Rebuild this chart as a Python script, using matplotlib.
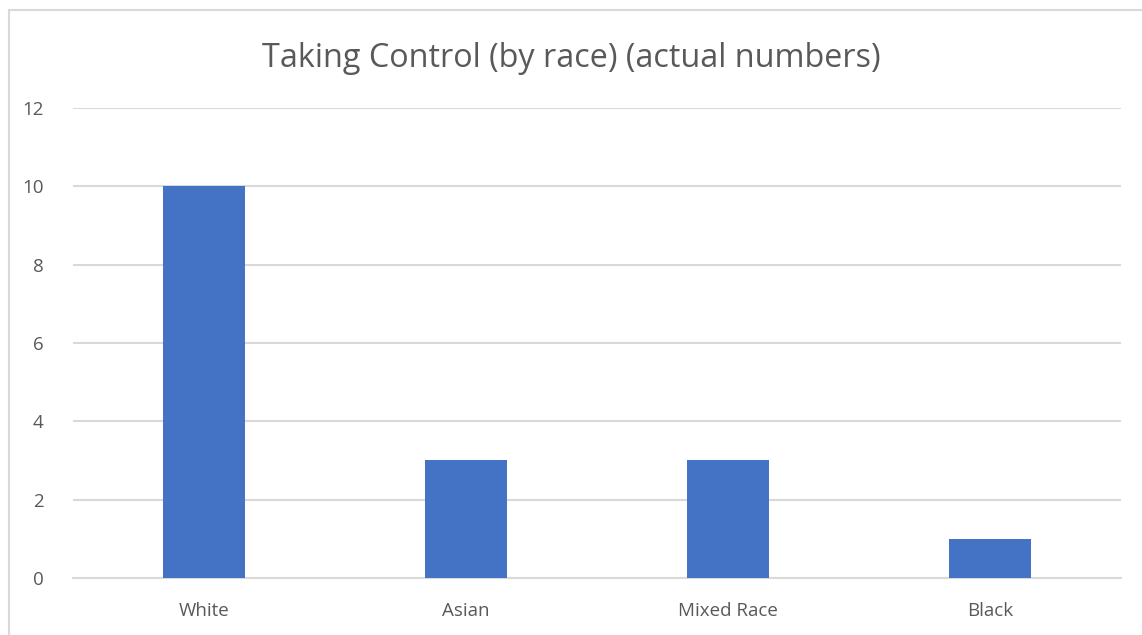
import matplotlib.pyplot as plt
from matplotlib.patches import Rectangle

categories = ['White', 'Asian', 'Mixed Race', 'Black']
counts = [10, 3, 3, 1]
y_ticks = [0, 2, 4, 6, 8, 10, 12]

plt.rcParams['font.family'] = ['Open Sans', 'DejaVu Sans']
text_grey = '#595959'
grid_grey = '#D9D9D9'

fig = plt.figure(figsize=(11.42, 6.35), dpi=100)
ax = fig.add_axes([0.0639, 0.0898, 0.9177, 0.7401])

# chart area outline (runs off the right and bottom edges)
fig.patches.append(Rectangle((9 / 1142, -0.05), 1.2, 1 - 10 / 635 + 0.05,
                             transform=fig.transFigure, fill=False,
                             edgecolor=grid_grey, linewidth=1.5))

x = range(len(categories))
ax.bar(x, counts, width=0.313, color='#4472C4', zorder=3)

ax.set_xlim(-0.5, len(categories) - 0.5)
ax.set_ylim(0, 12)
ax.set_yticks(y_ticks)
ax.set_xticks(list(x))
ax.set_xticklabels(categories)
ax.yaxis.grid(True, color=grid_grey, linewidth=1.5, zorder=0)
ax.set_axisbelow(True)

for side in ['top', 'right', 'left']:
    ax.spines[side].set_visible(False)
ax.spines['bottom'].set_color(grid_grey)
ax.spines['bottom'].set_linewidth(1.5)

ax.tick_params(axis='both', length=0, labelsize=13.5, labelcolor=text_grey)
ax.tick_params(axis='y', pad=21)
ax.tick_params(axis='x', pad=17)

fig.text(0.5, 0.908, 'Taking Control (by race) (actual numbers)',
         ha='center', va='center', fontsize=23.3, color=text_grey)

fig.savefig('out.png', dpi=100)
